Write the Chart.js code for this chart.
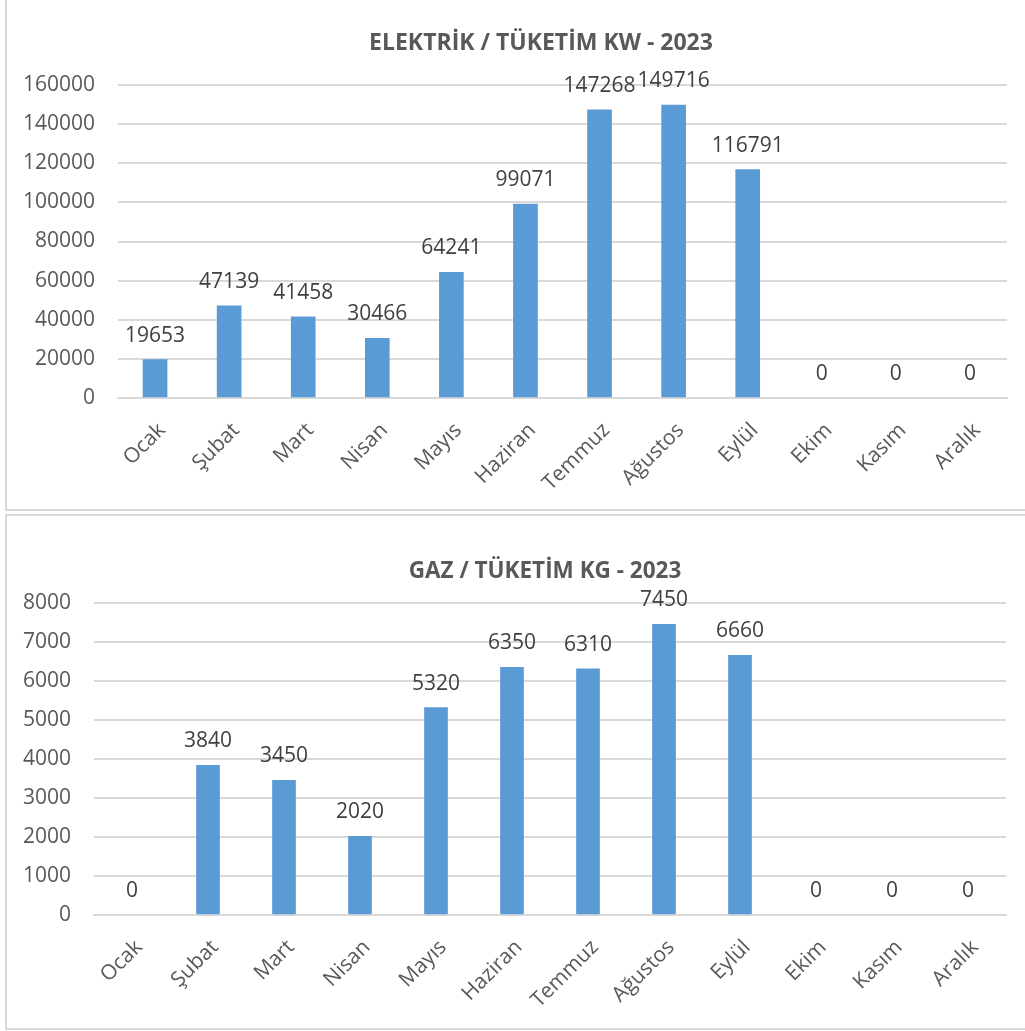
<!DOCTYPE html>
<html><head><meta charset="utf-8">
<script src="https://cdn.jsdelivr.net/npm/chart.js@4"></script>
<style>
body{margin:0;background:#fff;width:1025px;height:1031px;overflow:hidden;position:relative}
.box{position:absolute;border:2px solid #d9d9d9;box-sizing:border-box}
.wrap{position:absolute}
</style></head><body>
<div class="box" style="left:5px;top:-10px;width:1040px;height:521px"></div>
<div class="box" style="left:5px;top:514px;width:1040px;height:516px"></div>
<div class="wrap" style="left:0;top:0;width:1025px;height:510px"><canvas id="cv1"></canvas></div>
<div class="wrap" style="left:0;top:513px;width:1025px;height:518px"><canvas id="cv2"></canvas></div>
<script>
const months = ['Ocak','Şubat','Mart','Nisan','Mayıs','Haziran','Temmuz','Ağustos','Eylül','Ekim','Kasım','Aralık'];
const elektrik = [19653,47139,41458,30466,64241,99071,147268,149716,116791,0,0,0];
const gaz = [0,3840,3450,2020,5320,6350,6310,7450,6660,0,0,0];
const elektrikTitle = 'ELEKTRİK / TÜKETİM KW - 2023';
const gazTitle = 'GAZ / TÜKETİM KG - 2023';

const FONT = "'Open Sans', 'Noto Sans', sans-serif";

function makeChart(id, title, labels, values, max, step, L, T, R, B, titleX, titleY, titleSize, barW) {
  const ctx = document.getElementById(id);
  const H = ctx.parentNode.clientHeight;
  const labelPlugin = {
    id: 'lbl' + id,
    afterDatasetsDraw(chart) {
      const c = chart.ctx;
      const meta = chart.getDatasetMeta(0);
      c.save();
      c.font = '21px ' + FONT;
      c.fillStyle = '#404040';
      c.textAlign = 'center';
      c.textBaseline = 'middle';
      meta.data.forEach((bar, i) => {
        c.fillText(String(values[i]), bar.x, bar.y - 24);
      });
      c.restore();
    },
    afterDraw(chart) {
      const c = chart.ctx;
      c.save();
      c.font = 'bold ' + titleSize + 'px ' + FONT;
      c.fillStyle = '#595959';
      c.textAlign = 'center';
      c.textBaseline = 'middle';
      c.fillText(title, titleX, titleY);
      c.restore();
    }
  };
  return new Chart(ctx, {
    type: 'bar',
    data: { labels: labels, datasets: [{ data: values,
      backgroundColor: (c) => (c.raw === 0 ? 'rgba(0,0,0,0)' : '#5b9bd5'),
      barThickness: barW }] },
    options: {
      responsive: true, maintainAspectRatio: false, animation: false,
      devicePixelRatio: 1,
      layout: { padding: { left: 0, top: T, right: R, bottom: 0 } },
      plugins: { legend: { display: false }, tooltip: { enabled: false }, title: { display: false } },
      scales: {
        x: {
          grid: { display: false, drawTicks: false },
          border: { display: true, color: '#d9d9d9', width: 2 },
          ticks: { color: '#595959', font: { size: 21, family: FONT }, minRotation: 45, maxRotation: 45, padding: 20, labelOffset: 7, autoSkip: false },
          afterFit(axis) { axis.height = H - B; }
        },
        y: {
          min: 0, max: max,
          grid: { color: '#d9d9d9', lineWidth: 2, drawTicks: false },
          border: { display: false },
          ticks: { stepSize: step, color: '#595959', font: { size: 21, family: FONT }, padding: 23,
            callback: (v) => String(v) },
          afterFit(axis) { axis.width = L; }
        }
      }
    },
    plugins: [labelPlugin]
  });
}

makeChart('cv1', elektrikTitle, months, elektrik, 160000, 20000, 118, 85, 18, 398, 541, 43, 23, 24);
makeChart('cv2', gazTitle, months, gaz, 8000, 1000, 94, 90, 19, 402, 545, 59, 22.5, 23);
</script>
</body></html>
